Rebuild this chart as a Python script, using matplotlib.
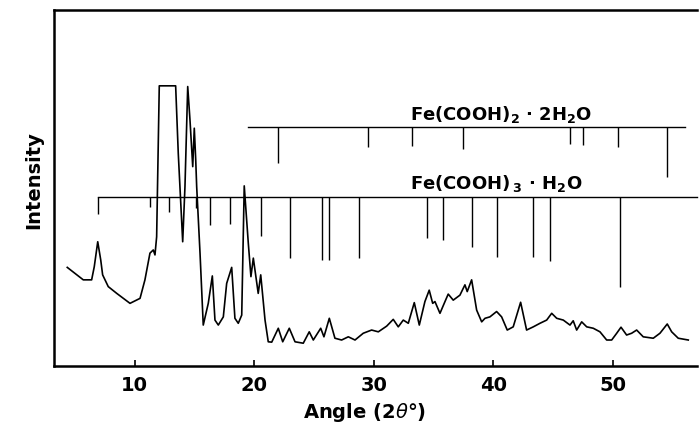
import matplotlib.pyplot as plt

# XRD pattern (angle 2theta in degrees, intensity in arbitrary units 0-100)
angle = [4.35, 5.69, 6.39, 6.61, 6.90, 7.15, 7.31, 7.78, 8.49, 9.60, 10.44, 10.85,
         11.27, 11.55, 11.69, 11.83, 12.05, 13.42, 13.64, 14.01, 14.20, 14.43, 14.62,
         14.85, 14.98, 15.10, 15.18, 15.46, 15.73, 16.15, 16.49, 16.71, 16.99, 17.41,
         17.69, 18.11, 18.38, 18.66, 18.95, 19.16, 19.50, 19.72, 19.92, 20.33, 20.54,
         20.90, 21.17, 21.46, 22.01, 22.38, 22.93, 23.41, 24.10, 24.60, 24.94, 25.56,
         25.83, 26.28, 26.75, 27.31, 27.87, 28.43, 29.12, 29.82, 30.38, 31.08, 31.63,
         32.05, 32.47, 32.89, 33.39, 33.81, 34.28, 34.64, 34.93, 35.12, 35.54, 35.96,
         36.23, 36.65, 37.21, 37.63, 37.82, 38.19, 38.61, 39.03, 39.31, 39.72, 40.28,
         40.70, 41.17, 41.67, 42.29, 42.79, 43.35, 43.91, 44.47, 44.89, 45.31, 45.86,
         46.42, 46.69, 46.98, 47.40, 47.82, 48.37, 48.93, 49.49, 49.91, 50.33, 50.69,
         51.16, 51.58, 52.00, 52.55, 53.39, 53.95, 54.56, 54.93, 55.48, 56.32]
intensity = [27.7, 24.2, 24.2, 27.9, 34.9, 29.8, 25.6, 22.3, 20.4, 17.6, 19.0, 24.2,
             31.7, 32.6, 31.2, 36.3, 78.7, 78.7, 59.7, 34.9, 50.4, 78.5, 69.1,
             56.0, 66.8, 57.9, 50.4, 31.7, 11.5, 17.6, 25.3, 12.9, 11.5, 13.8,
             23.2, 27.7, 13.4, 12.0, 14.3, 50.6, 34.5, 25.1, 30.3, 20.4, 25.6,
             12.9, 6.8, 6.7, 10.6, 6.8, 10.6, 6.8, 6.4, 9.6, 7.3, 10.6,
             8.2, 13.4, 7.8, 7.3, 8.2, 7.3, 9.2, 10.1, 9.6, 11.2, 13.1,
             11.0, 12.9, 12.0, 17.8, 11.5, 18.1, 21.3, 17.6, 18.1, 14.8, 18.1,
             20.2, 18.5, 19.9, 22.8, 20.9, 24.2, 15.7, 12.4, 13.4, 13.8, 15.3,
             13.8, 10.1, 11.0, 17.9, 10.1, 11.0, 12.0, 12.9, 14.8, 13.4, 12.9,
             11.5, 12.7, 10.1, 12.4, 11.0, 10.6, 9.6, 7.3, 7.3, 9.2, 10.9,
             8.7, 9.2, 10.1, 8.2, 7.8, 9.2, 11.8, 9.6, 7.8, 7.3]

# Reference lines Fe(COOH)3.H2O (hanging down from a baseline)
fe3_level = 47.6
fe3_start = 6.95
fe3_pos = [6.95, 11.27, 12.86, 15.10, 16.32, 17.94, 20.56, 22.99, 25.69, 26.25,
           28.74, 34.45, 35.82, 38.24, 40.31, 43.35, 44.74, 50.60]
fe3_end = [42.6, 44.6, 43.3, 44.3, 39.6, 40.0, 36.4, 30.4, 29.8, 29.8,
           30.3, 35.9, 35.4, 33.5, 30.7, 30.5, 29.6, 22.3]

# Reference lines Fe(COOH)2.2H2O
fe2_level = 67.0
fe2_start = 19.47
fe2_stop = 56.04
fe2_pos = [21.96, 29.54, 33.17, 37.49, 46.42, 47.53, 50.46, 54.51]
fe2_end = [56.9, 61.6, 61.8, 60.9, 62.3, 62.1, 61.4, 53.2]

fig = plt.figure(figsize=(6.99, 4.32), dpi=100)
ax = fig.add_axes([54/699, 66/432, 643/699, 356/432])

xmin, xmax = 3.24, 57.05
ax.plot(angle, intensity, color='black', lw=1.2)

# stick patterns
ax.plot([fe3_start, xmax], [fe3_level, fe3_level], color='black', lw=1.0, clip_on=False)
ax.vlines(fe3_pos, fe3_end, fe3_level, color='black', lw=1.0)
ax.plot([fe2_start, fe2_stop], [fe2_level, fe2_level], color='black', lw=1.0)
ax.vlines(fe2_pos, fe2_end, fe2_level, color='black', lw=1.0)

ax.text(33.0, 69.2, r'Fe(COOH)$_{\mathbf{2}}$ · 2H$_{\mathbf{2}}$O', fontsize=13,
        fontweight='bold', ha='left', va='baseline')
ax.text(33.0, 49.8, r'Fe(COOH)$\,_{\mathbf{3}}$ · H$_{\mathbf{2}}$O', fontsize=13,
        fontweight='bold', ha='left', va='baseline')

ax.set_xlim(xmin, xmax)
ax.set_ylim(0, 100)
ax.set_xticks([10, 20, 30, 40, 50])
ax.set_yticks([])
ax.tick_params(axis='x', direction='in', length=4, width=1.2, pad=7, labelsize=14)
for lab in ax.get_xticklabels():
    lab.set_fontweight('bold')
ax.spines['right'].set_visible(False)
for s in ['left', 'bottom', 'top']:
    ax.spines[s].set_linewidth(1.8)

fig.text(365/699, 1 - 413/432, r'Angle (2$\theta$°)', fontsize=14, fontweight='bold',
         ha='center', va='center')
fig.text(34/699, 1 - 180/432, 'Intensity', fontsize=14, fontweight='bold',
         rotation=90, ha='center', va='center')

fig.savefig('out.png', dpi=100)
